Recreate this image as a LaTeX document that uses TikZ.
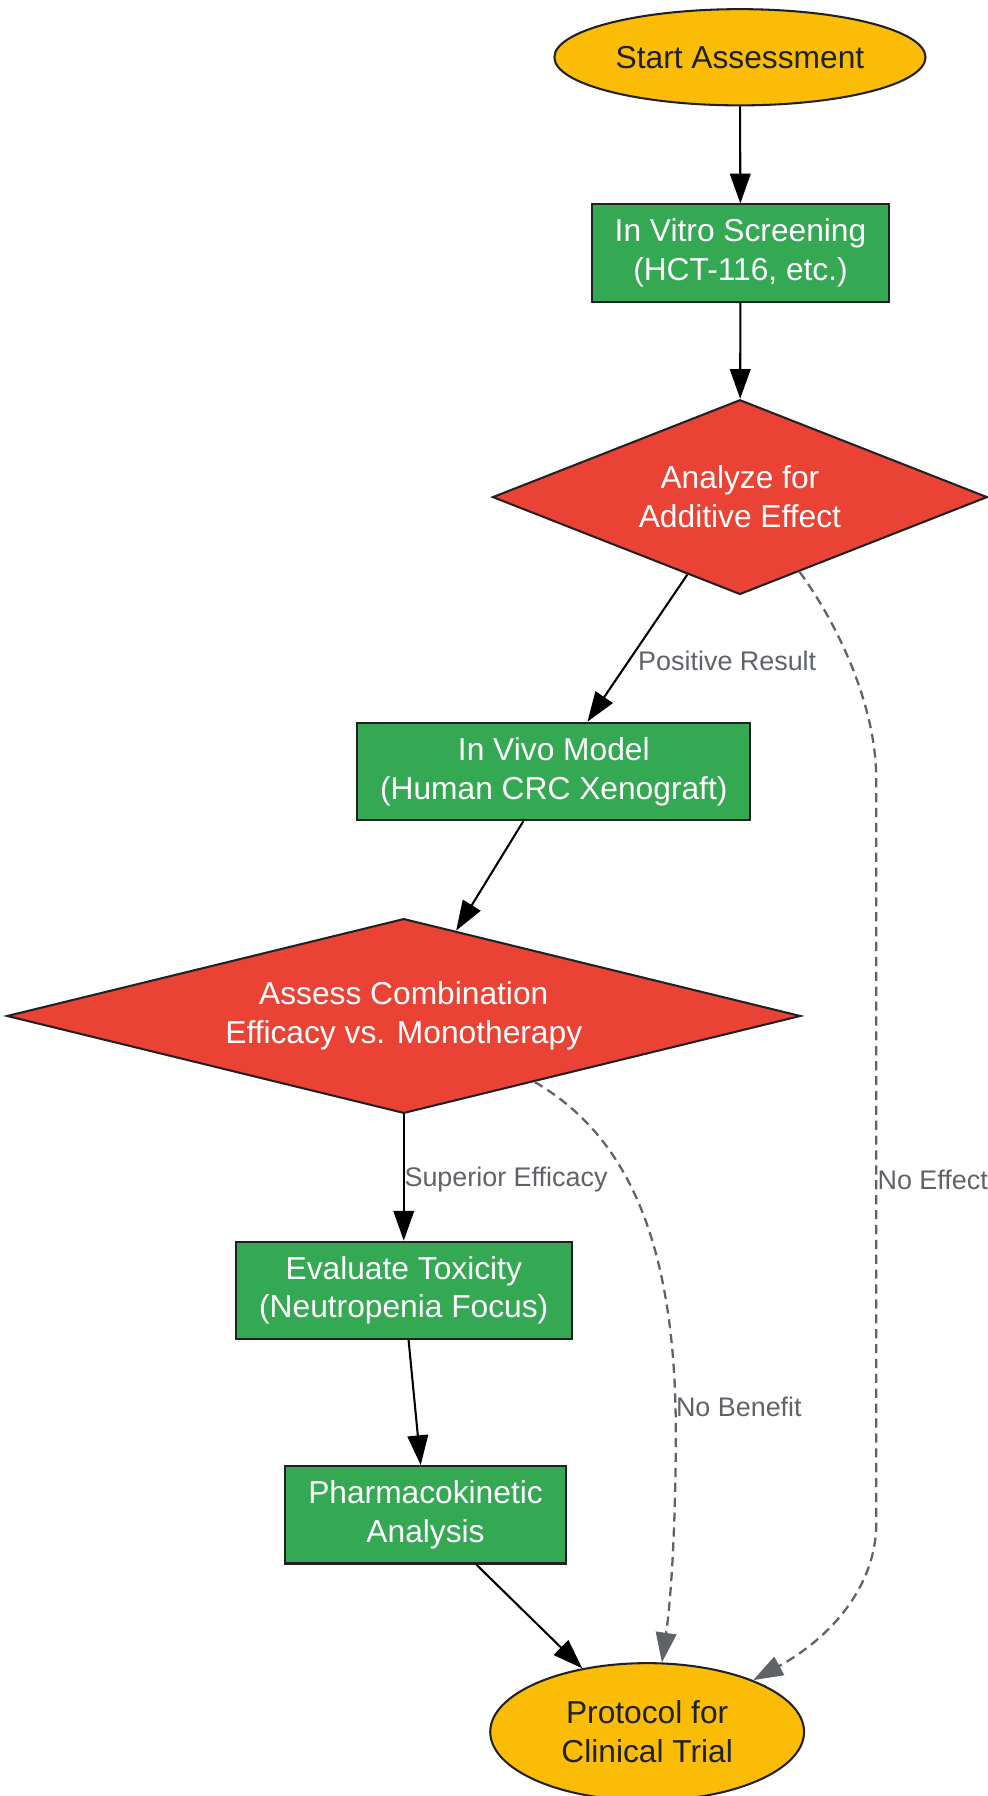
\documentclass[tikz,border=0pt]{standalone}
\usepackage{fontspec}
\setmainfont{Liberation Sans}
\usetikzlibrary{shapes.geometric,arrows.meta,calc}
\definecolor{cyellow}{HTML}{FBBC05}
\definecolor{cgreen}{HTML}{34A853}
\definecolor{cred}{HTML}{EA4335}
\definecolor{cborder}{HTML}{202124}
\definecolor{cgray}{HTML}{5F6368}
\tikzset{
  base/.style={draw=cborder, line width=1.8pt, align=center, inner sep=0pt,
    font=\fontsize{27.7}{34}\selectfont},
  termnode/.style={base, ellipse, fill=cyellow, text=cborder},
  procnode/.style={base, rectangle, fill=cgreen, text=white, minimum height=85pt},
  decnode/.style={base, diamond, fill=cred, text=white, minimum height=170pt},
  flow/.style={draw=black, line width=1.8pt, -{Triangle[length=26pt,width=18pt]}},
  altflow/.style={draw=cgray, line width=2pt, dash pattern=on 8pt off 5pt,
    -{Triangle[length=26pt,width=18pt]}},
  elabel/.style={text=cgray, anchor=west, inner sep=0pt, font=\fontsize{23.5}{28}\selectfont}
}
\begin{document}
\begin{tikzpicture}[x=1pt,y=-1pt]
\useasboundingbox (0,0) rectangle (862,1568);
\node[termnode, minimum width=324pt, minimum height=84pt] (start) at (646,50) {Start Assessment};
\node[procnode, minimum width=259pt] (vitro) at (646.5,221) {In Vitro Screening\\(HCT-116, etc.)};
\node[decnode, minimum width=432pt, aspect=2.54] (d1) at (646,434) {Analyze for\\Additive Effect};
\node[procnode, minimum width=343pt] (vivo) at (483.5,673.5) {In Vivo Model\\(Human CRC Xenograft)};
\node[decnode, minimum width=693pt, aspect=4.08] (d2) at (352.5,887) {Assess Combination\\Efficacy vs. Monotherapy};
\node[procnode, minimum width=293pt] (tox) at (352.5,1126.5) {Evaluate Toxicity\\(Neutropenia Focus)};
\node[procnode, minimum width=245pt] (pk) at (371.5,1322.5) {Pharmacokinetic\\Analysis};
\node[termnode, minimum width=274pt, minimum height=120pt] (proto) at (565,1512) {Protocol for\\Clinical Trial};

\coordinate (d1out) at ($(d1.east)!0.76!(d1.south)$);
\coordinate (d2out) at ($(d2.east)!0.671!(d2.south)$);

\draw[flow] (start) -- (vitro);
\draw[flow] (vitro) -- (d1);
\draw[flow] (d1) -- (vivo);
\draw[flow] (vivo) -- (d2);
\draw[flow] (d2) -- (tox);
\draw[flow] (tox) -- (pk);
\draw[flow] (pk) -- (proto);

\draw[altflow] (d1out) .. controls (735,550) and (765,620) .. (765,680)
  -- (765,1330) .. controls (765,1385) and (725,1430) .. (proto.26);
\draw[altflow] (d2out) .. controls (545,990) and (590,1080) .. (590,1250)
  .. controls (590,1330) and (586,1395) .. (proto.78);

\node[elabel] (lpos) at (557,577) {Positive Result};
\node[elabel] (lsup) at (353,1030) {Superior Efficacy};
\node[elabel] (lnoe) at (766,1030) {No Effect};
\node[elabel] (lnob) at (590,1228) {No Benefit};
\end{tikzpicture}
\end{document}
